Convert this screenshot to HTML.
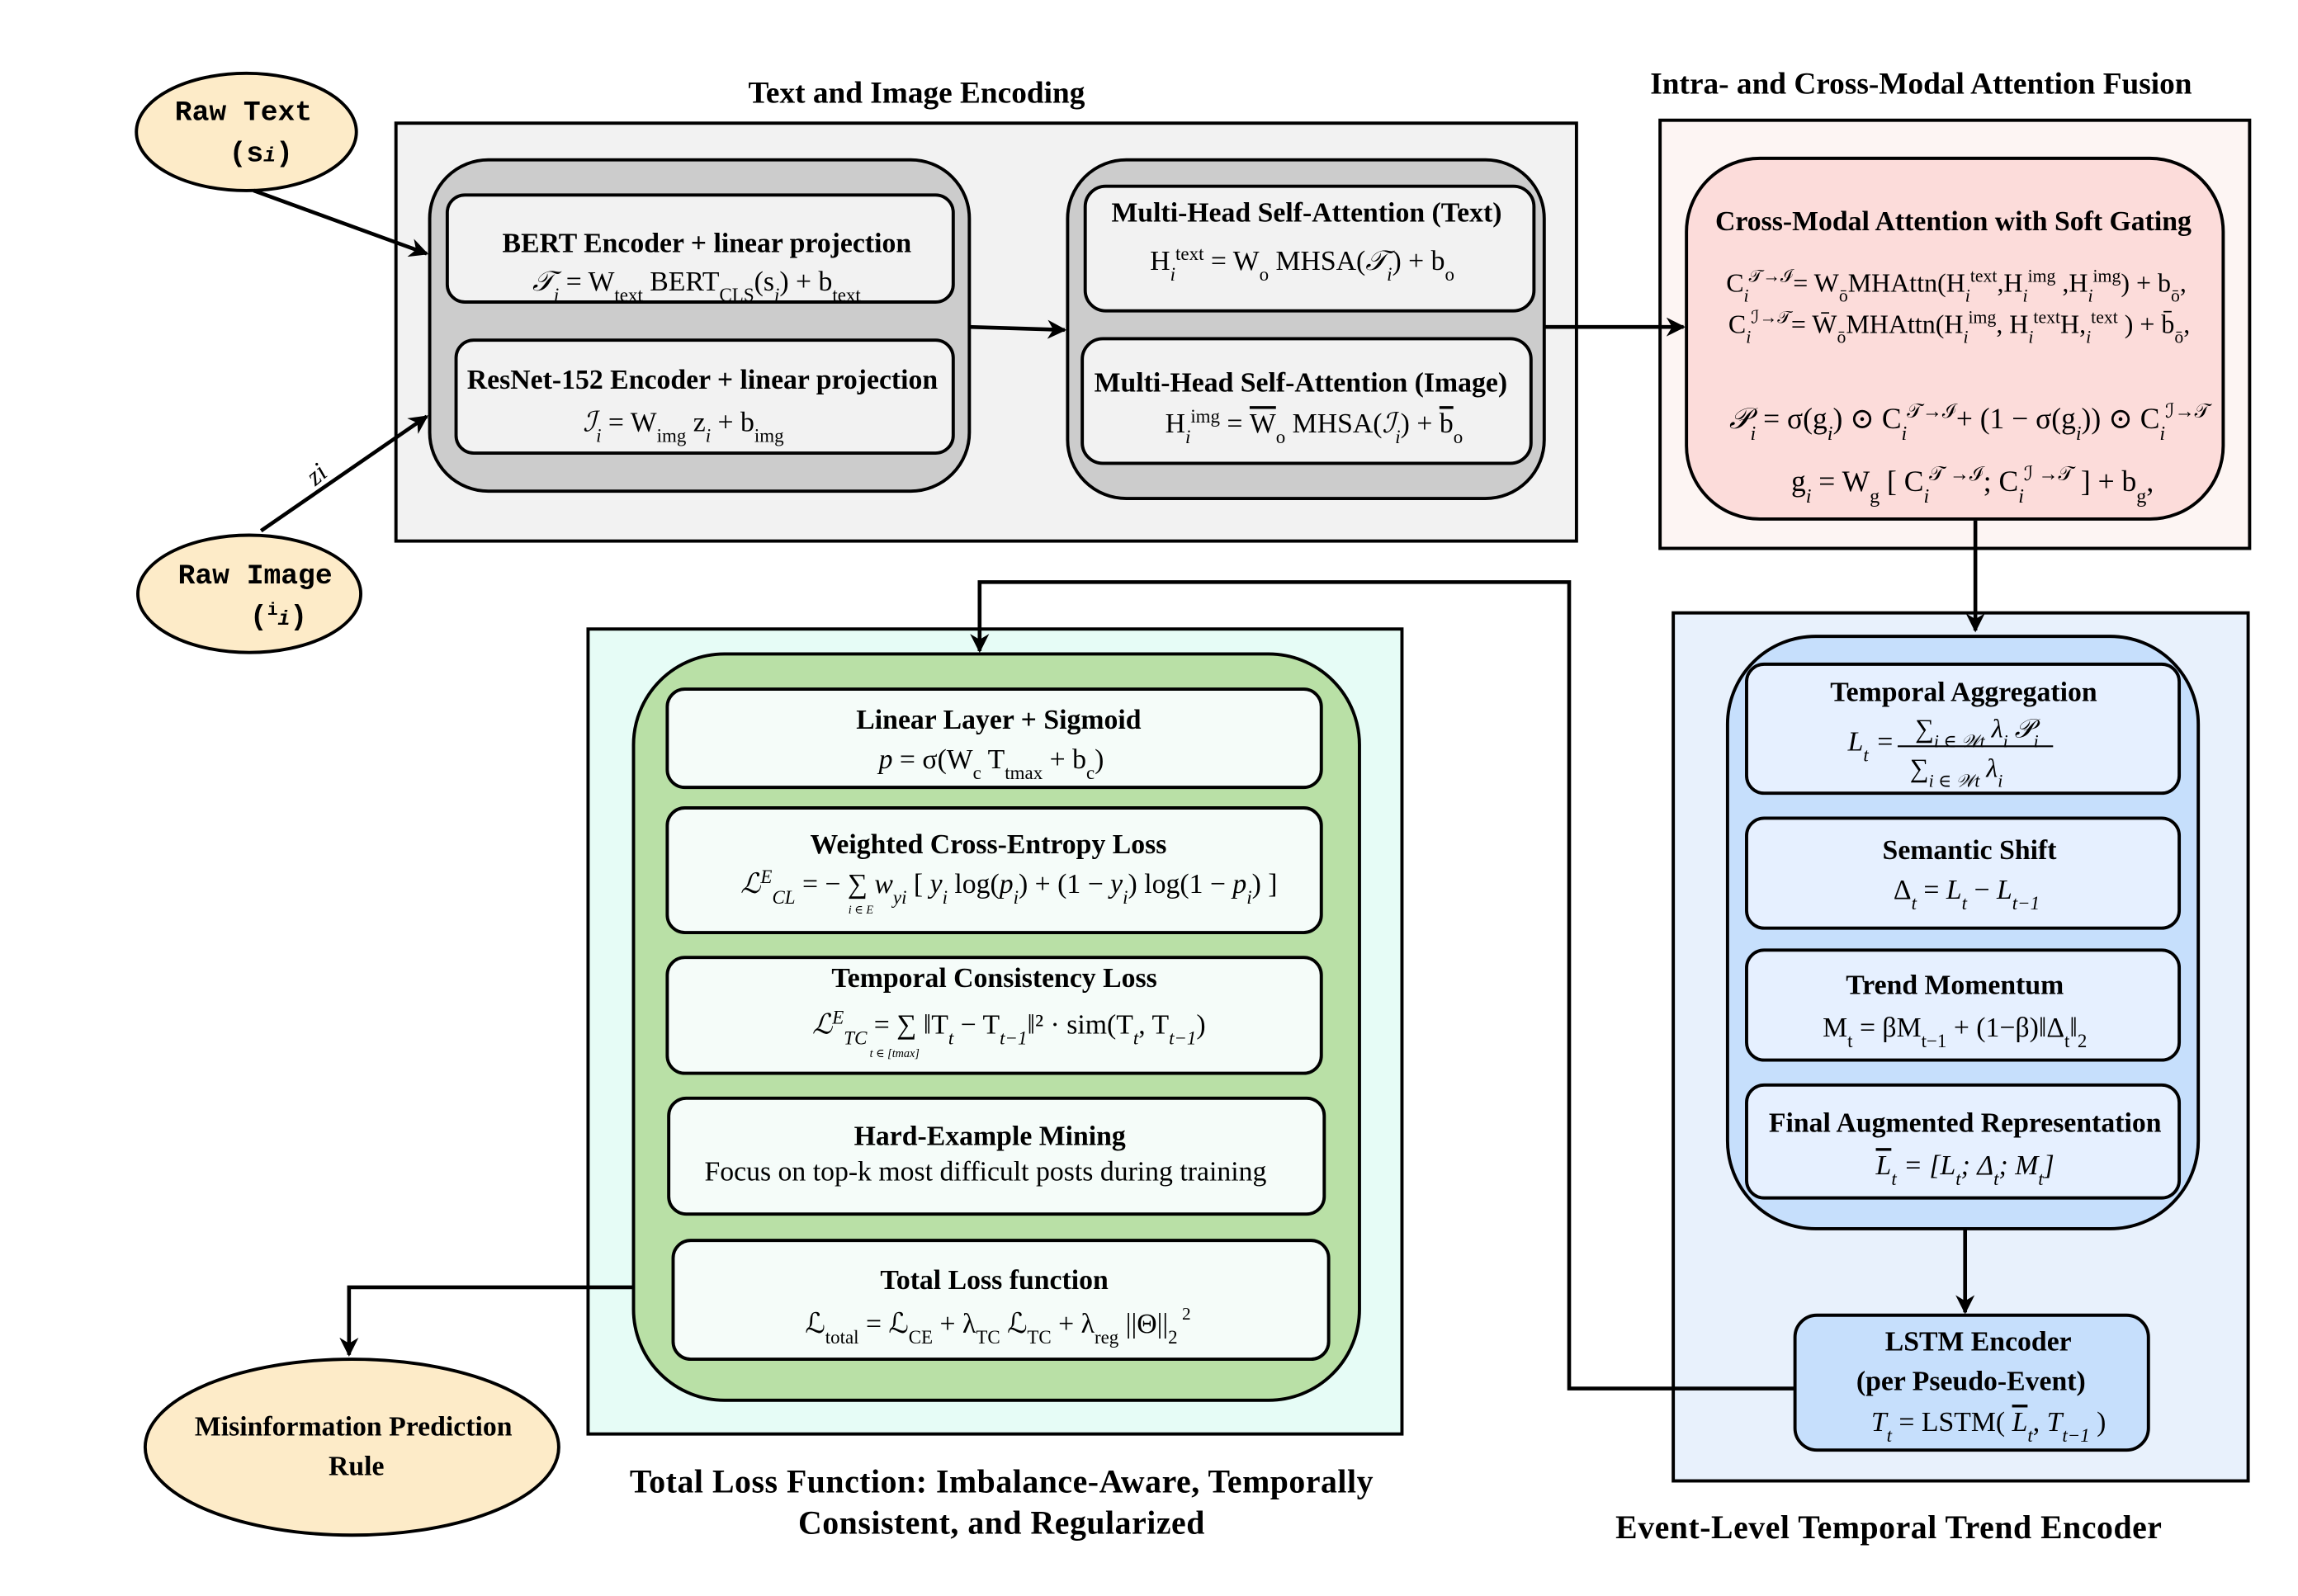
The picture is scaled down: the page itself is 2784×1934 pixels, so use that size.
<!DOCTYPE html>
<html><head><meta charset="utf-8"><style>
html,body{margin:0;padding:0;background:#fff;}
svg{display:block;}
text{font-family:"Liberation Serif","DejaVu Serif",serif;fill:#000;}
.t{font-weight:bold;font-size:21px;}
.T{font-weight:bold;font-size:22.4px;letter-spacing:0.3px;}
.b{font-weight:bold;font-size:19px;}
.m{font-size:19px;}
.mono{font-family:"Liberation Mono","DejaVu Sans Mono",monospace;font-weight:bold;font-size:19.5px;}
.s{font-size:0.68em;}
</style></head><body>
<svg width="2784" height="1934" viewBox="0 0 1567 1088.5" preserveAspectRatio="none" xmlns="http://www.w3.org/2000/svg">
<defs>
<marker id="ah" viewBox="0 0 10 10" refX="9" refY="5" markerWidth="5" markerHeight="5" orient="auto-start-reverse" markerUnits="strokeWidth"><path d="M0,0 L10,5 L0,10 L3,5 z" fill="#000"/></marker>
</defs>
<g stroke="#000" stroke-width="2.2">
<ellipse cx="168" cy="90" rx="75" ry="40" fill="#fdebc8"/>
<ellipse cx="170" cy="405" rx="76" ry="40" fill="#fdebc8"/>
<ellipse cx="240" cy="987" rx="141" ry="60" fill="#fdebc8"/>
<rect x="270" y="84" width="805" height="285" fill="#f2f2f2"/>
<rect x="293" y="109" width="368" height="226" rx="40" fill="#cccccc"/>
<rect x="305" y="133" width="345" height="73" rx="12" fill="#f2f2f2"/>
<rect x="311" y="232" width="339" height="77" rx="12" fill="#f2f2f2"/>
<rect x="728" y="109" width="325" height="231" rx="40" fill="#cccccc"/>
<rect x="740" y="127" width="306" height="85" rx="14" fill="#f2f2f2"/>
<rect x="738" y="231" width="306" height="85" rx="14" fill="#f2f2f2"/>
<rect x="1132" y="82" width="402" height="292" fill="#fdf5f3"/>
<rect x="1150" y="108" width="366" height="246" rx="50" fill="#fcdcda"/>
<rect x="1141" y="418" width="392" height="592" fill="#e8f1fc"/>
<rect x="1178" y="434" width="321" height="404" rx="60" fill="#c6dffc"/>
<rect x="1191" y="453" width="295" height="88" rx="12" fill="#e6f0ff"/>
<rect x="1191" y="558" width="295" height="75" rx="12" fill="#e6f0ff"/>
<rect x="1191" y="648" width="295" height="75" rx="12" fill="#e6f0ff"/>
<rect x="1191" y="740" width="295" height="77" rx="12" fill="#e6f0ff"/>
<rect x="1224" y="897" width="241" height="92" rx="15" fill="#c6dffc"/>
<rect x="401" y="429" width="555" height="549" fill="#e6fcf6"/>
<rect x="432" y="446" width="495" height="509" rx="62" fill="#b9e0a6"/>
<rect x="455" y="470" width="446" height="67" rx="12" fill="#f5fcf9"/>
<rect x="455" y="551" width="446" height="85" rx="12" fill="#f5fcf9"/>
<rect x="455" y="653" width="446" height="79" rx="12" fill="#f5fcf9"/>
<rect x="456" y="749" width="447" height="79" rx="12" fill="#f5fcf9"/>
<rect x="459" y="846" width="447" height="81" rx="12" fill="#f5fcf9"/>
</g>
<g stroke="#000" stroke-width="2.6" fill="none">
<line x1="173" y1="130" x2="291" y2="173" marker-end="url(#ah)"/>
<line x1="178" y1="362" x2="291" y2="284" marker-end="url(#ah)"/>
<line x1="661" y1="223" x2="726" y2="225" marker-end="url(#ah)"/>
<line x1="1053" y1="223" x2="1148" y2="223" marker-end="url(#ah)"/>
<line x1="1347" y1="355" x2="1347" y2="430" marker-end="url(#ah)"/>
<line x1="1340" y1="838" x2="1340" y2="895" marker-end="url(#ah)"/>
<polyline points="1224,947 1070,947 1070,397 668,397 668,444" marker-end="url(#ah)"/>
<polyline points="432,878 238,878 238,924" marker-end="url(#ah)"/>
</g>
<text class="t" x="625" y="70" text-anchor="middle">Text and Image Encoding</text>
<text class="t" x="1310" y="64" text-anchor="middle">Intra- and Cross-Modal Attention Fusion</text>
<text class="T" x="683" y="1018" text-anchor="middle">Total Loss Function: Imbalance-Aware, Temporally</text>
<text class="T" x="683" y="1046" text-anchor="middle">Consistent, and Regularized</text>
<text class="T" x="1288" y="1049" text-anchor="middle">Event-Level Temporal Trend Encoder</text>
<text class="mono" x="166" y="82" text-anchor="middle">Raw Text</text>
<text class="mono" x="178" y="110" text-anchor="middle" font-weight="normal">(s<tspan font-style="italic" font-size="14">i</tspan>)</text>
<text class="mono" x="174" y="398" text-anchor="middle">Raw Image</text>
<text class="mono" x="190" y="426" text-anchor="middle" font-weight="normal">(<tspan font-size="12" baseline-shift="super">i</tspan><tspan font-style="italic" font-size="14">i</tspan>)</text>
<text class="b" x="241" y="979" text-anchor="middle" font-size="19.5">Misinformation  Prediction</text>
<text class="b" x="243" y="1006" text-anchor="middle" font-size="19.5">Rule</text>
<text x="210" y="330" font-size="18" font-style="italic" transform="rotate(-40 215 324)">zi</text>
<text class="b" x="482" y="172" text-anchor="middle">BERT Encoder + linear projection</text>
<text class="m" x="475" y="198" text-anchor="middle"><tspan font-style="italic">𝒯</tspan><tspan class="s" font-style="italic" baseline-shift="sub">i</tspan> = W<tspan class="s" baseline-shift="sub">text</tspan> BERT<tspan class="s" baseline-shift="sub">CLS</tspan>(s<tspan class="s" font-style="italic" baseline-shift="sub">i</tspan>) + b<tspan class="s" baseline-shift="sub">text</tspan></text>
<text class="b" x="479" y="265" text-anchor="middle">ResNet-152 Encoder + linear projection</text>
<text class="m" x="466" y="294" text-anchor="middle"><tspan font-style="italic">ℐ</tspan><tspan class="s" font-style="italic" baseline-shift="sub">i</tspan> = W<tspan class="s" baseline-shift="sub">img</tspan> z<tspan class="s" font-style="italic" baseline-shift="sub">i</tspan> + b<tspan class="s" baseline-shift="sub">img</tspan></text>
<text class="b" x="891" y="151" text-anchor="middle">Multi-Head Self-Attention (Text)</text>
<text class="m" x="888" y="184" text-anchor="middle">H<tspan class="s" font-style="italic" baseline-shift="sub">i</tspan><tspan class="s" baseline-shift="super">text</tspan> = W<tspan class="s" baseline-shift="sub">o</tspan> MHSA(<tspan font-style="italic">𝒯</tspan><tspan class="s" font-style="italic" baseline-shift="sub">i</tspan>) + b<tspan class="s" baseline-shift="sub">o</tspan></text>
<text class="b" x="887" y="267" text-anchor="middle">Multi-Head Self-Attention (Image)</text>
<text class="m" x="896" y="295" text-anchor="middle">H<tspan class="s" font-style="italic" baseline-shift="sub">i</tspan><tspan class="s" baseline-shift="super">img</tspan> = <tspan text-decoration="overline">W</tspan><tspan class="s" baseline-shift="sub">o</tspan> MHSA(<tspan font-style="italic">ℐ</tspan><tspan class="s" font-style="italic" baseline-shift="sub">i</tspan>) + <tspan text-decoration="overline">b</tspan><tspan class="s" baseline-shift="sub">o</tspan></text>
<text class="b" x="1332" y="157" text-anchor="middle">Cross-Modal Attention with Soft Gating</text>
<text x="1334" y="199" text-anchor="middle" font-size="18">C<tspan class="s" font-style="italic" baseline-shift="sub">i</tspan><tspan class="s" baseline-shift="super">𝒯→ℐ</tspan>= W<tspan class="s" baseline-shift="sub">ō</tspan>MHAttn(H<tspan class="s" font-style="italic" baseline-shift="sub">i</tspan><tspan class="s" baseline-shift="super">text</tspan>,H<tspan class="s" font-style="italic" baseline-shift="sub">i</tspan><tspan class="s" baseline-shift="super">img</tspan> ,H<tspan class="s" font-style="italic" baseline-shift="sub">i</tspan><tspan class="s" baseline-shift="super">img</tspan>) + b<tspan class="s" baseline-shift="sub">ō</tspan>,</text>
<text x="1336" y="227" text-anchor="middle" font-size="18">C<tspan class="s" font-style="italic" baseline-shift="sub">i</tspan><tspan class="s" baseline-shift="super">ℐ→𝒯</tspan>= W̄<tspan class="s" baseline-shift="sub">ō</tspan>MHAttn(H<tspan class="s" font-style="italic" baseline-shift="sub">i</tspan><tspan class="s" baseline-shift="super">img</tspan>, H<tspan class="s" font-style="italic" baseline-shift="sub">i</tspan><tspan class="s" baseline-shift="super">text</tspan>H,<tspan class="s" font-style="italic" baseline-shift="sub">i</tspan><tspan class="s" baseline-shift="super">text</tspan> ) + b̄<tspan class="s" baseline-shift="sub">ō</tspan>,</text>
<text x="1343" y="292" text-anchor="middle" font-size="20"><tspan font-style="italic">𝒫</tspan><tspan class="s" font-style="italic" baseline-shift="sub">i</tspan> = σ(g<tspan class="s" font-style="italic" baseline-shift="sub">i</tspan>) ⊙ C<tspan class="s" font-style="italic" baseline-shift="sub">i</tspan><tspan class="s" baseline-shift="super">𝒯→ℐ</tspan>+ (1 − σ(g<tspan class="s" font-style="italic" baseline-shift="sub">i</tspan>)) ⊙ C<tspan class="s" font-style="italic" baseline-shift="sub">i</tspan><tspan class="s" baseline-shift="super">ℐ→𝒯</tspan></text>
<text x="1345" y="335" text-anchor="middle" font-size="20">g<tspan class="s" font-style="italic" baseline-shift="sub">i</tspan> = W<tspan class="s" baseline-shift="sub">g</tspan> [ C<tspan class="s" font-style="italic" baseline-shift="sub">i</tspan><tspan class="s" baseline-shift="super">𝒯 →ℐ</tspan>; C<tspan class="s" font-style="italic" baseline-shift="sub">i</tspan><tspan class="s" baseline-shift="super">ℐ →𝒯</tspan> ] + b<tspan class="s" baseline-shift="sub">g</tspan>,</text>
<text class="b" x="1339" y="478" text-anchor="middle">Temporal Aggregation</text>
<text x="1260" y="512" font-size="19" font-style="italic">L<tspan class="s" baseline-shift="sub">t</tspan> =</text>
<text x="1348" y="503" font-size="18" text-anchor="middle" font-style="italic">∑<tspan class="s" baseline-shift="sub">i ∈ 𝒲t</tspan> λ<tspan class="s" baseline-shift="sub">i</tspan> 𝒫<tspan class="s" baseline-shift="sub">i</tspan></text>
<line x1="1294" y1="509" x2="1400" y2="509" stroke="#000" stroke-width="1.2"/>
<text x="1334" y="530" font-size="18" text-anchor="middle" font-style="italic">∑<tspan class="s" baseline-shift="sub">i ∈ 𝒲t</tspan> λ<tspan class="s" baseline-shift="sub">i</tspan></text>
<text class="b" x="1343" y="586" text-anchor="middle">Semantic Shift</text>
<text x="1341" y="613" font-size="19" text-anchor="middle">Δ<tspan class="s" font-style="italic" baseline-shift="sub">t</tspan> = <tspan font-style="italic">L</tspan><tspan class="s" font-style="italic" baseline-shift="sub">t</tspan> − <tspan font-style="italic">L</tspan><tspan class="s" font-style="italic" baseline-shift="sub">t−1</tspan></text>
<text class="b" x="1333" y="678" text-anchor="middle">Trend Momentum</text>
<text x="1333" y="707" font-size="19" text-anchor="middle">M<tspan class="s" baseline-shift="sub">t</tspan> = βM<tspan class="s" baseline-shift="sub">t−1</tspan> + (1−β)‖Δ<tspan class="s" baseline-shift="sub">t</tspan>‖<tspan class="s" baseline-shift="sub">2</tspan></text>
<text class="b" x="1340" y="772" text-anchor="middle">Final Augmented Representation</text>
<text x="1340" y="801" font-size="19" text-anchor="middle" font-style="italic"><tspan text-decoration="overline">L</tspan><tspan class="s" baseline-shift="sub">t</tspan> = [L<tspan class="s" baseline-shift="sub">t</tspan>; Δ<tspan class="s" baseline-shift="sub">t</tspan>; M<tspan class="s" baseline-shift="sub">t</tspan>]</text>
<text class="b" x="1349" y="921" text-anchor="middle">LSTM Encoder</text>
<text class="b" x="1344" y="948" text-anchor="middle">(per Pseudo-Event)</text>
<text x="1356" y="976" font-size="19" text-anchor="middle"><tspan font-style="italic">T</tspan><tspan class="s" font-style="italic" baseline-shift="sub">t</tspan> = LSTM( <tspan font-style="italic" text-decoration="overline">L</tspan><tspan class="s" font-style="italic" baseline-shift="sub">t</tspan>, <tspan font-style="italic">T</tspan><tspan class="s" font-style="italic" baseline-shift="sub">t−1</tspan> )</text>
<text class="b" x="681" y="497" text-anchor="middle">Linear Layer + Sigmoid</text>
<text x="676" y="524" font-size="19" text-anchor="middle"><tspan font-style="italic">p</tspan> = σ(W<tspan class="s" baseline-shift="sub">c</tspan> T<tspan class="s" baseline-shift="sub">tmax</tspan> + b<tspan class="s" baseline-shift="sub">c</tspan>)</text>
<text class="b" x="674" y="582" text-anchor="middle">Weighted Cross-Entropy Loss</text>
<text x="688" y="609" font-size="19" text-anchor="middle"><tspan font-style="italic">ℒ</tspan><tspan class="s" font-style="italic" baseline-shift="super">E</tspan><tspan class="s" font-style="italic" baseline-shift="sub">CL</tspan> = − ∑ <tspan font-style="italic">w</tspan><tspan class="s" font-style="italic" baseline-shift="sub">yi</tspan> [ <tspan font-style="italic">y</tspan><tspan class="s" font-style="italic" baseline-shift="sub">i</tspan> log(<tspan font-style="italic">p</tspan><tspan class="s" font-style="italic" baseline-shift="sub">i</tspan>) + (1 − <tspan font-style="italic">y</tspan><tspan class="s" font-style="italic" baseline-shift="sub">i</tspan>) log(1 − <tspan font-style="italic">p</tspan><tspan class="s" font-style="italic" baseline-shift="sub">i</tspan>) ]</text>
<text x="587" y="623" font-size="8" text-anchor="middle" font-style="italic">i ∈ E</text>
<text class="b" x="678" y="673" text-anchor="middle">Temporal Consistency Loss</text>
<text x="688" y="705" font-size="19" text-anchor="middle"><tspan font-style="italic">ℒ</tspan><tspan class="s" font-style="italic" baseline-shift="super">E</tspan><tspan class="s" font-style="italic" baseline-shift="sub">TC</tspan> = ∑ ‖T<tspan class="s" font-style="italic" baseline-shift="sub">t</tspan> − T<tspan class="s" font-style="italic" baseline-shift="sub">t−1</tspan>‖² · sim(T<tspan class="s" font-style="italic" baseline-shift="sub">t</tspan>, T<tspan class="s" font-style="italic" baseline-shift="sub">t−1</tspan>)</text>
<text x="610" y="721" font-size="8" text-anchor="middle" font-style="italic">t ∈ [tmax]</text>
<text class="b" x="675" y="781" text-anchor="middle">Hard-Example Mining</text>
<text x="672" y="805" font-size="19" text-anchor="middle">Focus on top-k most difficult posts during training</text>
<text class="b" x="678" y="879" text-anchor="middle">Total Loss function</text>
<text x="676" y="909" font-size="19" text-anchor="middle">ℒ<tspan class="s" baseline-shift="sub">total</tspan> = ℒ<tspan class="s" baseline-shift="sub">CE</tspan> + λ<tspan class="s" baseline-shift="sub">TC</tspan> ℒ<tspan class="s" baseline-shift="sub">TC</tspan> + λ<tspan class="s" baseline-shift="sub">reg</tspan> ||Θ||<tspan class="s" baseline-shift="sub">2</tspan></text>
<text x="806" y="900" font-size="12">2</text>
</svg>
</body></html>
